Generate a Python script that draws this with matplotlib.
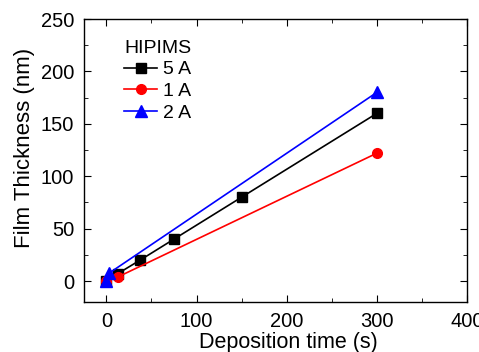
import matplotlib

matplotlib.use("Agg")
import matplotlib.pyplot as plt
from matplotlib.ticker import MultipleLocator

plt.rcParams["font.family"] = ["Liberation Sans", "DejaVu Sans"]

# data
t_5a = [0, 12.5, 37.5, 75, 150, 300]
d_5a = [0, 7, 20, 40, 80, 160]
t_1a = [0, 13, 300]
d_1a = [0, 4, 122]
t_2a = [0, 3, 300]
d_2a = [0, 7.5, 180]
labels = ["5 A", "1 A", "2 A"]

fig = plt.figure(figsize=(4.79, 3.52), dpi=100)
ax = fig.add_axes([0.175, 0.142, 0.8, 0.804])

ax.plot(t_5a, d_5a, "-s", color="black", lw=1.2, ms=6.5, label=labels[0])
ax.plot(t_1a, d_1a, "-o", color="red", lw=1.2, ms=7, label=labels[1])
ax.plot(t_2a, d_2a, "-^", color="blue", lw=1.2, ms=8, label=labels[2])

ax.set_xlim(-25, 400)
ax.set_ylim(-20, 250)
ax.xaxis.set_major_locator(MultipleLocator(100))
ax.xaxis.set_minor_locator(MultipleLocator(50))
ax.yaxis.set_major_locator(MultipleLocator(50))
ax.yaxis.set_minor_locator(MultipleLocator(25))
ax.tick_params(which="both", direction="in", top=True, right=True, labelsize=14.5)
ax.tick_params(which="major", length=5, pad=7)
ax.tick_params(which="minor", length=3)
for s in ax.spines.values():
    s.set_linewidth(1.0)

ax.set_xlabel("Deposition time (s)", fontsize=15.5)
ax.set_ylabel("Film Thickness (nm)", fontsize=16)
ax.xaxis.set_label_coords(0.535, -0.105)
ax.yaxis.set_label_coords(-0.128, 0.545)

leg = ax.legend(title="HIPIMS", loc="upper left", bbox_to_anchor=(0.085, 0.955),
                frameon=False, fontsize=14, title_fontsize=14,
                handlelength=1.7, handletextpad=0.3, labelspacing=0.22,
                borderaxespad=0)
leg._legend_box.align = "left"

fig.savefig("out.png", dpi=100)
